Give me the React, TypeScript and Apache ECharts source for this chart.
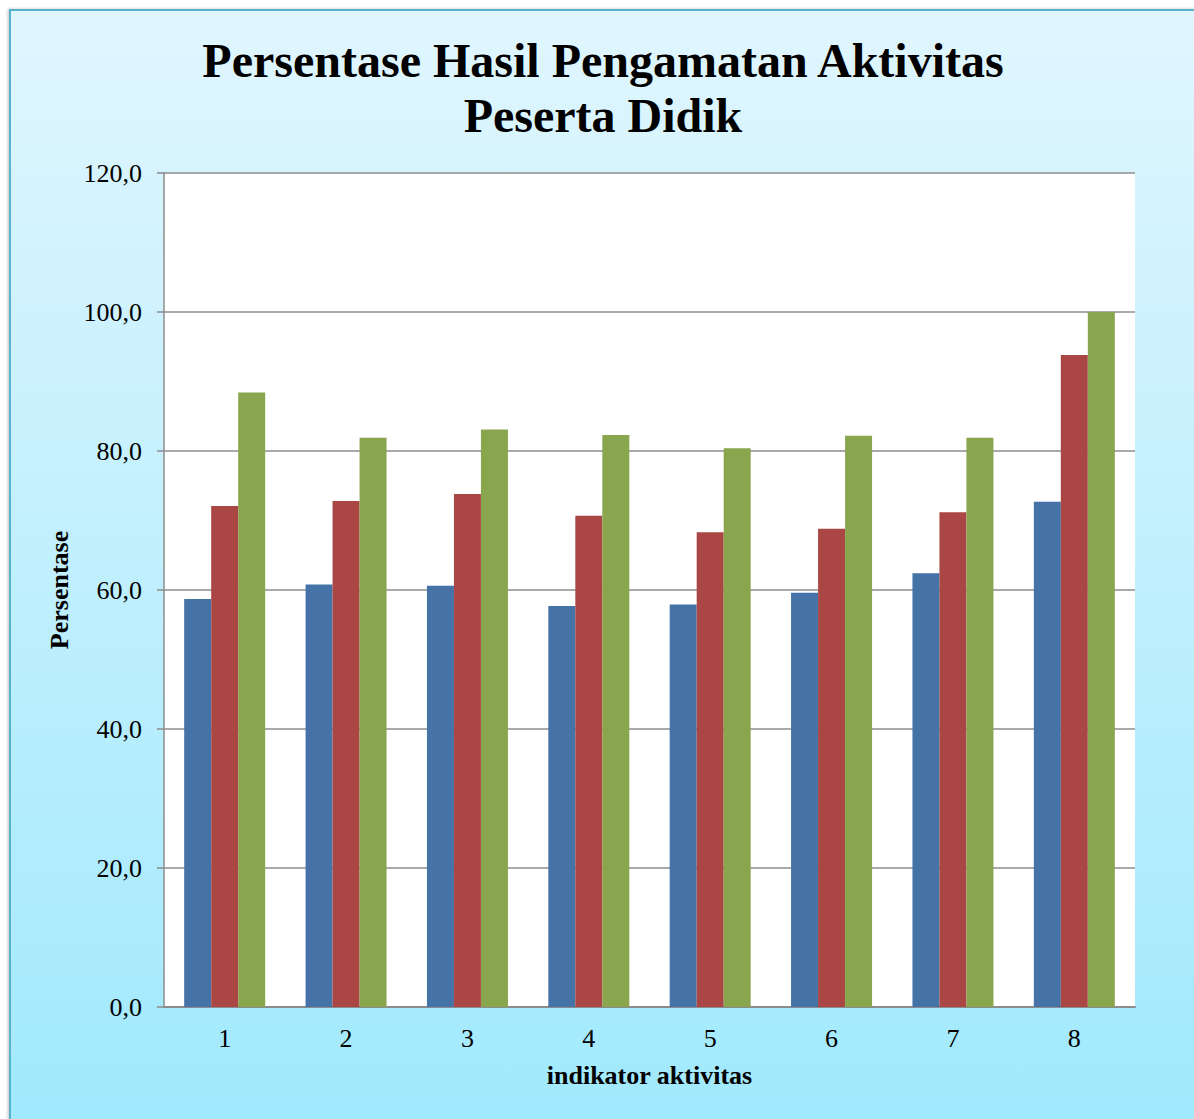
import React, { useEffect, useRef } from "react";
import * as echarts from "echarts";

const categories = ["1", "2", "3", "4", "5", "6", "7", "8"];
const seriesNames = ["Siklus I", "Siklus II", "Siklus III"];
const seriesA = [58.7, 60.8, 60.6, 57.7, 57.9, 59.6, 62.4, 72.7];
const seriesB = [72.1, 72.8, 73.8, 70.7, 68.3, 68.8, 71.2, 93.8];
const seriesC = [88.4, 81.9, 83.1, 82.3, 80.4, 82.2, 81.9, 100.0];
const colors = ["#4572a7", "#aa4643", "#89a54e"];
const titleLines = ["Persentase Hasil Pengamatan Aktivitas", "Peserta Didik"];
const yAxisName = "Persentase";
const xAxisName = "indikator aktivitas";

const FONT = "'Liberation Serif', 'Times New Roman', serif";

export default function App() {
  const ref = useRef<HTMLDivElement>(null);

  useEffect(() => {
    if (!ref.current) return;
    const chart = echarts.init(ref.current, undefined, { renderer: "svg" });
    const values = [seriesA, seriesB, seriesC];
    chart.setOption({
      animation: false,
      backgroundColor: "transparent",
      textStyle: { fontFamily: FONT },
      graphic: [
        {
          type: "text",
          x: 603,
          y: 60,
          style: {
            text: titleLines[0],
            font: `bold 48px ${FONT}`,
            fill: "#000",
            textAlign: "center",
            textVerticalAlign: "middle",
          },
        },
        {
          type: "text",
          x: 603,
          y: 115,
          style: {
            text: titleLines[1],
            font: `bold 48px ${FONT}`,
            fill: "#000",
            textAlign: "center",
            textVerticalAlign: "middle",
          },
        },
      ],
      grid: {
        left: 164,
        right: 59,
        top: 173,
        bottom: 112,
        show: true,
        backgroundColor: "#ffffff",
        borderWidth: 0,
      },
      xAxis: {
        type: "category",
        data: categories,
        name: xAxisName,
        nameLocation: "middle",
        nameGap: 55,
        nameTextStyle: {
          fontFamily: FONT,
          fontSize: 26,
          fontWeight: "bold",
          color: "#000",
        },
        axisLine: { show: true, lineStyle: { color: "#8c8c8c", width: 2 } },
        axisTick: { show: false },
        axisLabel: {
          fontFamily: FONT,
          fontSize: 26,
          color: "#000",
          margin: 18,
        },
        splitLine: { show: false },
      },
      yAxis: {
        type: "value",
        min: 0,
        max: 120,
        interval: 20,
        name: yAxisName,
        nameLocation: "middle",
        nameGap: 92,
        nameRotate: 90,
        nameTextStyle: {
          fontFamily: FONT,
          fontSize: 26,
          fontWeight: "bold",
          color: "#000",
        },
        axisLine: { show: true, lineStyle: { color: "#8c8c8c", width: 1.5 } },
        axisTick: {
          show: true,
          inside: false,
          length: 7,
          lineStyle: { color: "#8c8c8c", width: 1.5 },
        },
        axisLabel: {
          fontFamily: FONT,
          fontSize: 26,
          color: "#000",
          margin: 22,
          formatter: (v: number) => v.toFixed(1).replace(".", ","),
        },
        splitLine: { show: true, lineStyle: { color: "#8c8c8c", width: 1.5 } },
      },
      series: values.map((data, i) => ({
        type: "bar",
        name: seriesNames[i],
        data,
        barWidth: 27,
        barGap: "0%",
        itemStyle: { color: colors[i] },
      })),
    });
    return () => chart.dispose();
  }, []);

  return (
    <div
      style={{
        position: "absolute",
        left: 0,
        top: 0,
        width: 1194,
        height: 1119,
        overflow: "hidden",
        background: "#ffffff",
      }}
    >
      <div
        style={{
          position: "absolute",
          left: 9,
          top: 9,
          width: 1200,
          height: 1130,
          boxSizing: "border-box",
          border: "2px solid #5ab3cb",
          background: "linear-gradient(to bottom, #e0f6fe 0%, #a0e9fd 100%)",
          boxShadow: "-1px 0 3px rgba(0,0,0,0.25)",
        }}
      />
      <div
        ref={ref}
        style={{ position: "absolute", left: 0, top: 0, width: 1194, height: 1119 }}
      />
    </div>
  );
}
